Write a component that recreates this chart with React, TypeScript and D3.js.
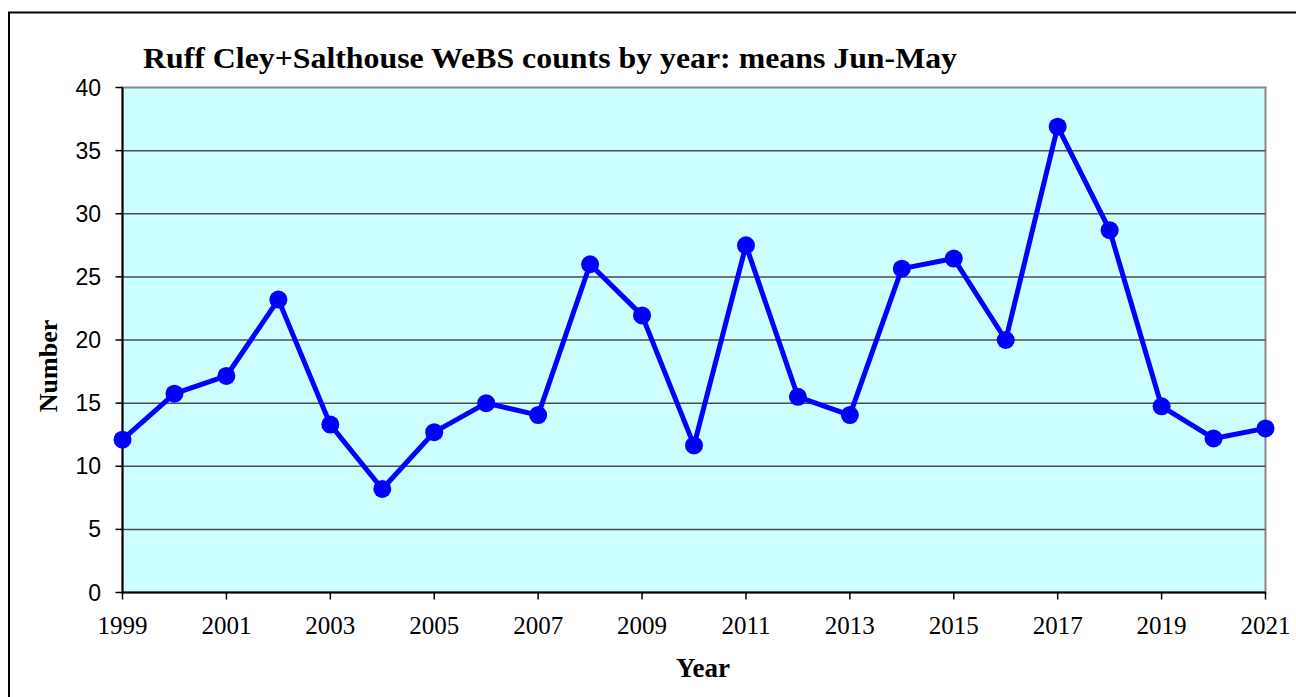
import React from "react";
import * as d3 from "d3";

const years = [1999,2000,2001,2002,2003,2004,2005,2006,2007,2008,2009,2010,2011,2012,2013,2014,2015,2016,2017,2018,2019,2020,2021];
const counts = [12.1,15.75,17.15,23.2,13.3,8.2,12.7,15.0,14.05,26.0,21.95,11.65,27.5,15.5,14.05,25.65,26.45,20.0,36.9,28.7,14.75,12.2,13.0];
const yTicks = [0,5,10,15,20,25,30,35,40];
const xTickYears = [1999,2001,2003,2005,2007,2009,2011,2013,2015,2017,2019,2021];
const title = "Ruff Cley+Salthouse WeBS counts by year: means Jun-May";

export default function App() {
  const W = 1296, H = 697;
  const left = 122.5, right = 1265.5, top = 87.5, bottom = 592.5;
  const x = d3.scaleLinear().domain([1999, 2021]).range([left, right]);
  const y = d3.scaleLinear().domain([0, 40]).range([bottom, top]);
  const line = d3.line<number>().x((_, i) => x(years[i])).y(d => y(d));
  const serif = "'Liberation Serif', 'Times New Roman', serif";
  const sans = "'Liberation Sans', Arial, sans-serif";
  return (
    <svg width={W} height={H} style={{ position: "absolute", left: 0, top: 0, background: "#fff" }} fontFamily={serif}>
      <rect x={9} y={12.5} width={1400} height={800} fill="#fff" stroke="#000" strokeWidth={2} />
      <rect x={left} y={top} width={right - left} height={bottom - top} fill="#ccffff" stroke="#888" strokeWidth={2} />
      {yTicks.filter(t => t > 0 && t < 40).map(t => (
        <line key={t} x1={left} x2={right} y1={y(t)} y2={y(t)} stroke="#4d4d4d" strokeWidth={1.5} />
      ))}
      <line x1={left} x2={left} y1={top} y2={bottom} stroke="#000" strokeWidth={2} />
      <line x1={left} x2={right} y1={bottom} y2={bottom} stroke="#000" strokeWidth={2} />
      {yTicks.map(t => (
        <g key={t}>
          <line x1={left - 7} x2={left} y1={y(t)} y2={y(t)} stroke="#000" strokeWidth={1.5} />
          <text x={101} y={y(t) + 8} textAnchor="end" fontSize={23} fontFamily={sans}>{t}</text>
        </g>
      ))}
      {xTickYears.map(t => (
        <g key={t}>
          <line x1={x(t)} x2={x(t)} y1={bottom} y2={bottom + 7} stroke="#000" strokeWidth={1.5} />
          <text x={x(t)} y={634} textAnchor="middle" fontSize={25}>{t}</text>
        </g>
      ))}
      <path d={line(counts) || ""} fill="none" stroke="#0000ff" strokeWidth={5} strokeLinejoin="round" />
      {counts.map((c, i) => (
        <circle key={i} cx={x(years[i])} cy={y(c)} r={9} fill="#0000ff" />
      ))}
      <text x={143} y={68} fontSize={29} fontWeight="bold" textLength={814} lengthAdjust="spacingAndGlyphs">{title}</text>
      <text x={703} y={677} textAnchor="middle" fontSize={27} fontWeight="bold">Year</text>
      <text transform={`translate(57, 366) rotate(-90)`} textAnchor="middle" fontSize={26} fontWeight="bold">Number</text>
    </svg>
  );
}
